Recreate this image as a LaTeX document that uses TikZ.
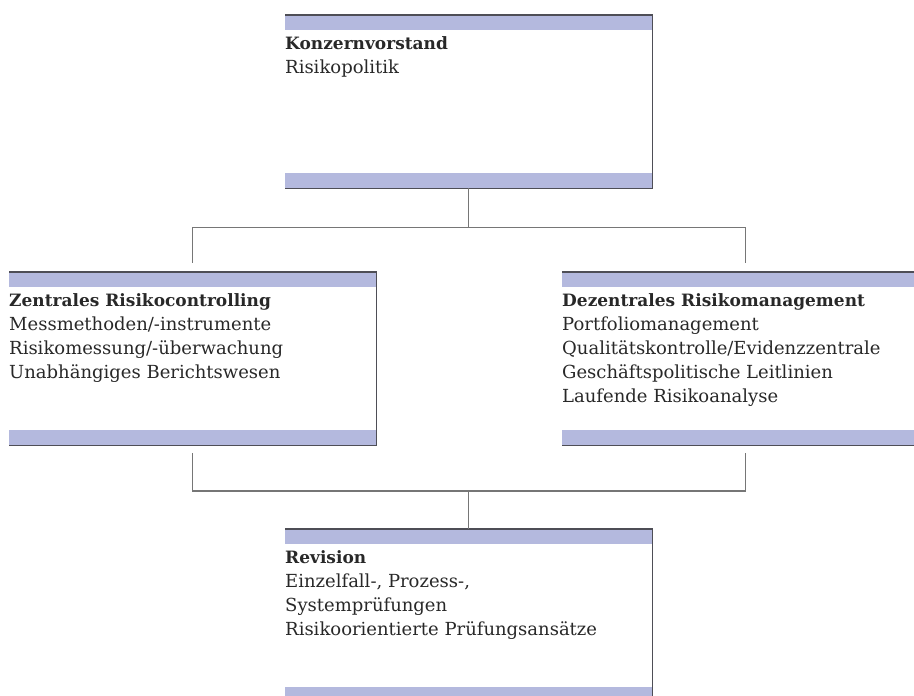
\documentclass[tikz,border=0pt]{standalone}
\usepackage{fontspec}
\setmainfont{DejaVu Serif}
\usetikzlibrary{positioning, calc}
\definecolor{barblue}{RGB}{180,185,222}
\definecolor{edgegray}{RGB}{78,78,86}
\definecolor{linegray}{RGB}{118,118,118}
\definecolor{inkgray}{RGB}{40,40,40}
\newcommand{\unithead}[1]{{\fontsize{17}{24.2}\selectfont\bfseries #1}}

\begin{document}
\begin{tikzpicture}[x=1pt, y=-1pt,
  unit/.style={rectangle, anchor=north west, inner sep=0pt,
               minimum width=367pt, minimum height=173pt},
  bar/.style={fill=barblue, draw=none},
  rim/.style={draw=edgegray, line width=1.1pt},
  body/.style={anchor=north west, inner sep=0pt, align=left, text=inkgray,
               font=\fontsize{18}{24.2}\selectfont},
  link/.style={draw=linegray, line width=1.3pt}
]
\useasboundingbox (0,0) rectangle (914,696);
\clip (0,0) rectangle (914,696);

\node[unit] (vorstand)    at (285,15)  {};
\node[unit] (controlling) at (9,272)   {};
\node[unit] (management)  at (562,272) {};
\node[unit] (revision)    at (285,529) {};

% bars and edges of the units
\foreach \u in {vorstand, controlling, management, revision} {
  \fill[bar] (\u.north west) rectangle ($(\u.north east)+(0,15)$);
  \fill[bar] ($(\u.south west)+(0,-15)$) rectangle (\u.south east);
  \draw[rim] (\u.north west) -- (\u.north east) -- (\u.south east) -- (\u.south west);
}

\node[body] (vorstand-text) at ($(vorstand.north west)+(0,21)$)
  {\unithead{Konzernvorstand}\\Risikopolitik};
\node[body] (controlling-text) at ($(controlling.north west)+(0,21)$)
  {\unithead{Zentrales Risikocontrolling}\\Messmethoden/-instrumente\\Risikomessung/-überwachung\\Unabhängiges Berichtswesen};
\node[body] (management-text) at ($(management.north west)+(0,21)$)
  {\unithead{Dezentrales Risikomanagement}\\Portfoliomanagement\\Qualitätskontrolle/Evidenzzentrale\\Geschäftspolitische Leitlinien\\Laufende Risikoanalyse};
\node[body] (revision-text) at ($(revision.north west)+(0,21)$)
  {\unithead{Revision}\\Einzelfall-, Prozess-,\\Systemprüfungen\\Risikoorientierte Prüfungsansätze};

% connectors
\draw[link] (vorstand.south) -- ++(0,39) coordinate (upfork);
\draw[link, shorten >=9pt] (upfork) -| (controlling.north);
\draw[link, shorten >=9pt] (upfork) -| (management.north);

\coordinate (lowfork) at ($(revision.north)+(0,-38)$);
\draw[link, shorten <=8pt] (controlling.south) |- (lowfork);
\draw[link, shorten <=8pt] (management.south) |- (lowfork);
\draw[link] (lowfork) -- (revision.north);

\end{tikzpicture}
\end{document}
